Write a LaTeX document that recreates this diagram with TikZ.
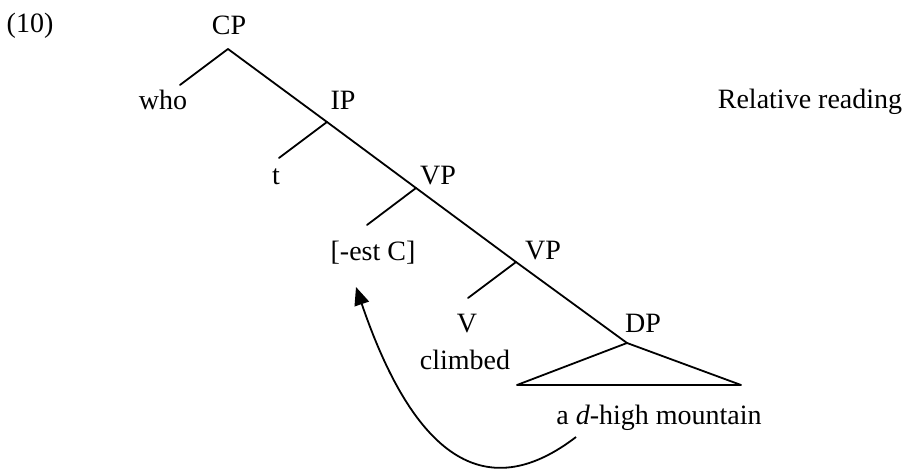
\documentclass[tikz,border=0pt]{standalone}
\usepackage{fontspec}
\setmainfont{Liberation Serif}
\usetikzlibrary{arrows.meta}
\begin{document}
\begin{tikzpicture}[x=1bp,y=-1bp,
  lbl/.style={anchor=base,inner sep=0pt,font=\fontsize{28bp}{34bp}\selectfont},
  branch/.style={line width=1.8bp,line cap=round,line join=round}]
\useasboundingbox (0,0) rectangle (907,470);
% labels
\node[lbl] (ex) at (30,33) {(10)};
\node[lbl] (cp) at (229,35) {CP};
\node[lbl] (who) at (163,110) {who};
\node[lbl] (ip) at (343,110) {IP};
\node[lbl] (t) at (276,185) {t};
\node[lbl] (vp1) at (438,185) {VP};
\node[lbl] (est) at (373,261) {[-est C]};
\node[lbl] (vp2) at (543,260) {VP};
\node[lbl] (v) at (467,333) {V};
\node[lbl] (climbed) at (465,370) {climbed};
\node[lbl] (dp) at (643,333) {DP};
\node[lbl] (mtn) at (659,424) {a \textit{d}-high mountain};
\node[lbl] (rel) at (810,109) {Relative reading};
% junctions
\coordinate (jcp) at (228,49);
\coordinate (jip) at (327,122);
\coordinate (jvp1) at (416,188);
\coordinate (jvp2) at (516,262);
\coordinate (jdp) at (627,343);
\coordinate (ewho) at (180,85);
\coordinate (et) at (279,158);
\coordinate (eest) at (367,225);
\coordinate (ev) at (468,298);
\coordinate (tl) at (517,385);
\coordinate (tr) at (741,385);
\coordinate (as) at (576,437);
\coordinate (ae) at (356,287);
% tree
\draw[branch] (jcp) -- (jip) -- (jvp1) -- (jvp2) -- (jdp);
\draw[branch] (jcp) -- (ewho);
\draw[branch] (jip) -- (et);
\draw[branch] (jvp1) -- (eest);
\draw[branch] (jvp2) -- (ev);
\draw[branch] (jdp) -- (tl) -- (tr) -- cycle;
% movement arrow
\draw[line width=1.8bp,-{Triangle[length=18bp,width=15bp]}]
  (as) .. controls (468,520) and (402,422) .. (ae);
\end{tikzpicture}
\end{document}
